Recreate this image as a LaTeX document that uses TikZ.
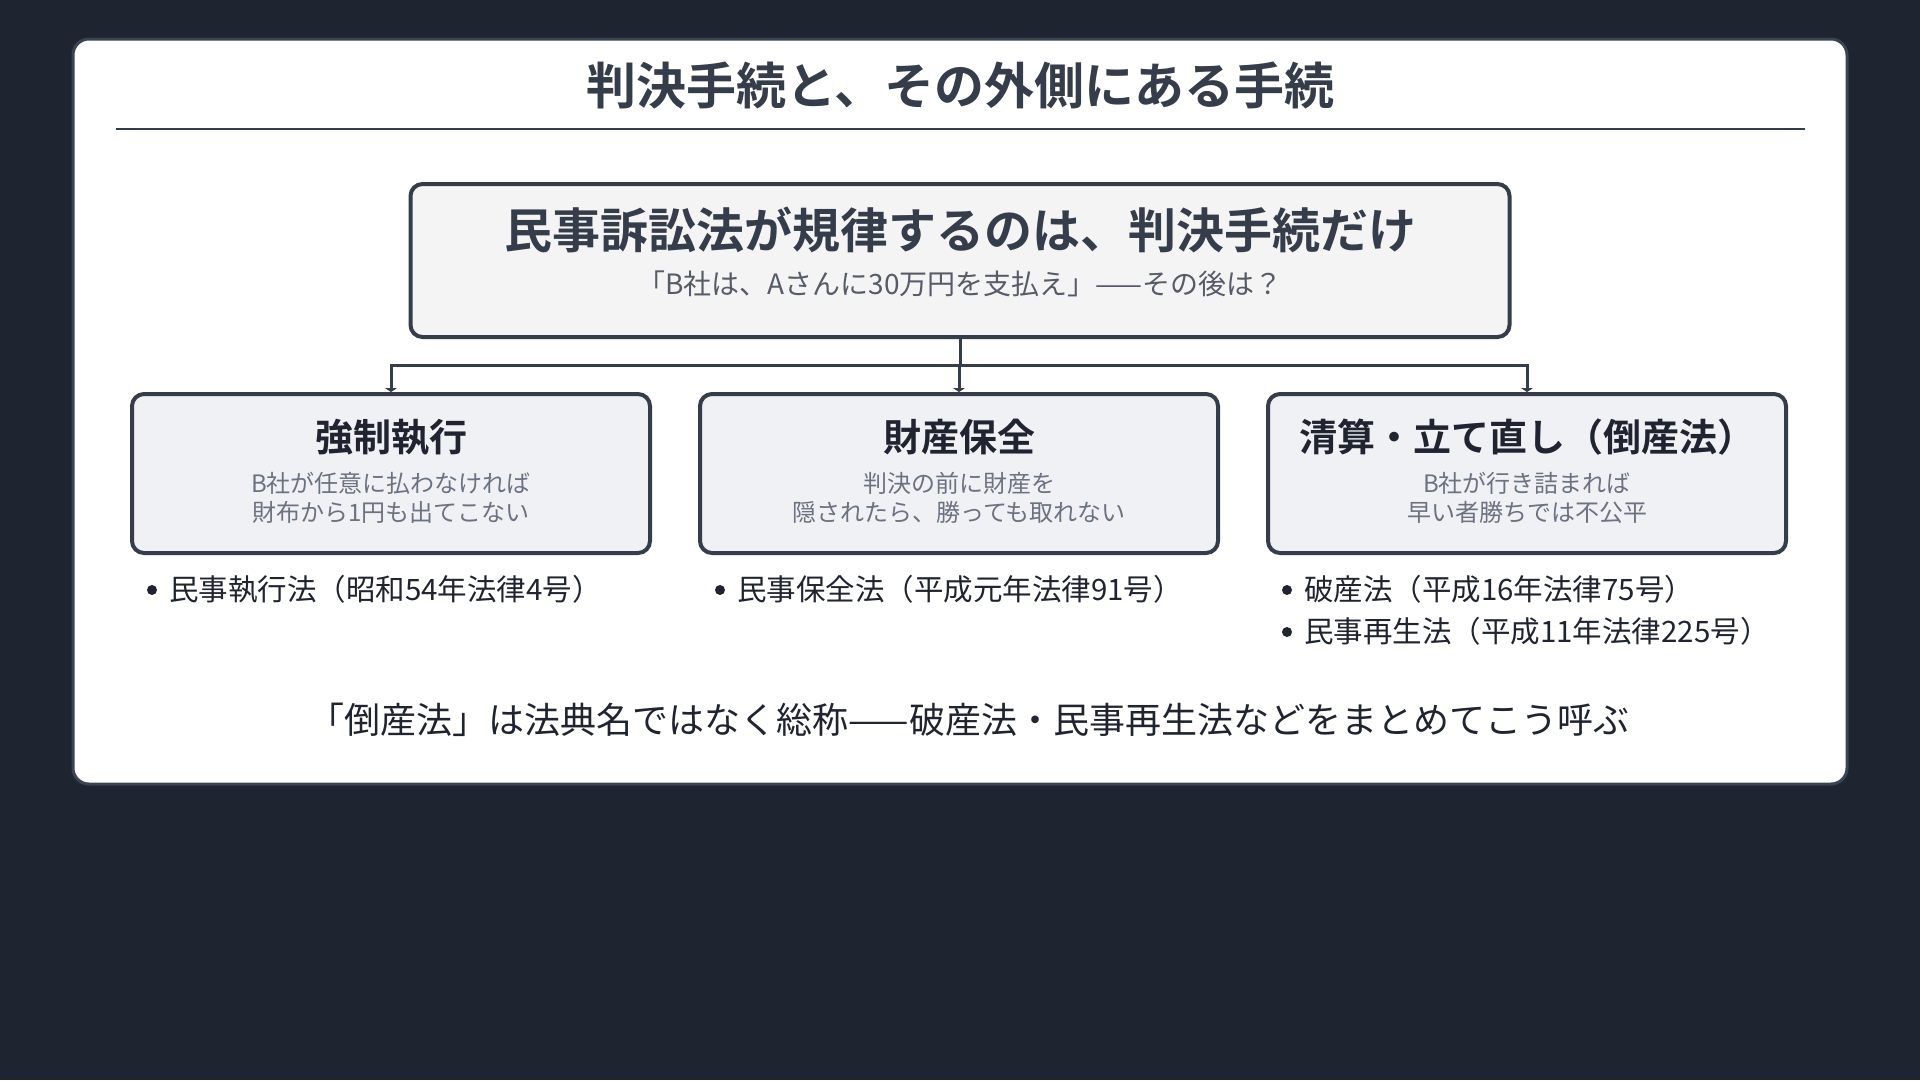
\documentclass[tikz,border=0pt]{standalone}
\usepackage{fontspec}
\setmainfont{Noto Sans CJK JP}[BoldFont={Noto Sans CJK JP Bold}]
\usetikzlibrary{arrows.meta}
\usetikzlibrary{positioning}
\definecolor{bgdark}{HTML}{1E2430}
\definecolor{framecol}{HTML}{3B4452}
\definecolor{inkcol}{HTML}{353D4A}
\definecolor{boxtop}{HTML}{F4F4F5}
\definecolor{boxsub}{HTML}{EFF1F5}
\definecolor{greytext}{HTML}{6B7280}
\definecolor{darktext}{HTML}{1F2430}
\newcommand{\fs}[1]{\fontsize{#1}{#1}\selectfont}
\tikzset{circ/.style = {fill=darktext, circle, inner sep = 0, minimum size = 10}}
\tikzset{
  mainbox/.style = {draw=inkcol, line width=4, fill=boxtop, rounded corners=12,
    minimum width=1099, minimum height=153, inner sep=0},
  subbox/.style = {draw=inkcol, line width=4, fill=boxsub, rounded corners=12,
    minimum width=518, minimum height=159, inner sep=0},
  subtitle/.style = {text=darktext, font=\fs{38}\bfseries},
  desc/.style = {text=greytext, font=\fontsize{24}{29.5}\selectfont, align=center},
  law/.style = {anchor=west, text=darktext, font=\fs{29.5}, inner sep=0},
  link/.style = {draw=inkcol, line width=3}
}

\begin{document}
\begin{tikzpicture}[x=1pt, y=-1pt]
      \useasboundingbox (0,0) rectangle (1920,1080);
      \fill[bgdark] (0,0) rectangle (1920,1080);
      \draw[framecol, line width=3, fill=white, rounded corners=16] (73,39) rectangle (1847,784);
      \node (title) at (960,86) [text=inkcol, font=\fs{50}\bfseries] {判決手続と、その外側にある手続};
      \draw[inkcol, line width=2] (116,129) -- (1805,129);

      % top box
      \node (civ) [mainbox] at (960,260.5) {};
      \node (civhead) at (960,230) [text=inkcol, font=\fs{48}\bfseries] {民事訴訟法が規律するのは、判決手続だけ};
      \node (civsub) at (960,284) [text=greytext!80!black, font=\fs{28}] {「B社は、Aさんに30万円を支払え」——その後は？};

      % three branches
      \node (exec) [subbox] at (391,473.5) {};
      \node (pres) [subbox] at (959,473.5) {};
      \node (insol) [subbox] at (1527,473.5) {};
      \coordinate (fork) at (960,365);
      \draw[link] (civ.south) -- (fork);
      \foreach \b in {exec, pres, insol} {
        \draw[link, -{Triangle[length=4, width=12]}] (fork) -| (\b.north);
      }

      \node at (391,437) [subtitle] {強制執行};
      \node at (391,498) [desc] {B社が任意に払わなければ\\財布から1円も出てこない};
      \node at (959,437) [subtitle] {財産保全};
      \node at (959,498) [desc] {判決の前に財産を\\隠されたら、勝っても取れない};
      \node at (1527,437) [subtitle] {清算・立て直し（倒産法）};
      \node at (1527,498) [desc] {B社が行き詰まれば\\早い者勝ちでは不公平};

      % statutes
      \node [circ] at (152,590) {};
      \node (minji) [law] at (169,589) {民事執行法（昭和54年法律4号）};
      \node [circ] at (720,590) {};
      \node (hozen) [law] at (737,589) {民事保全法（平成元年法律91号）};
      \node [circ] at (1287,590) {};
      \node (hasan) [law] at (1304,589) {破産法（平成16年法律75号）};
      \node [circ] at (1287,632) {};
      \node (saisei) [law] at (1304,631) {民事再生法（平成11年法律225号）};

      \node (note) at (969,720) [text=darktext, font=\fs{36}] {「倒産法」は法典名ではなく総称——破産法・民事再生法などをまとめてこう呼ぶ};
    \end{tikzpicture}
\end{document}
